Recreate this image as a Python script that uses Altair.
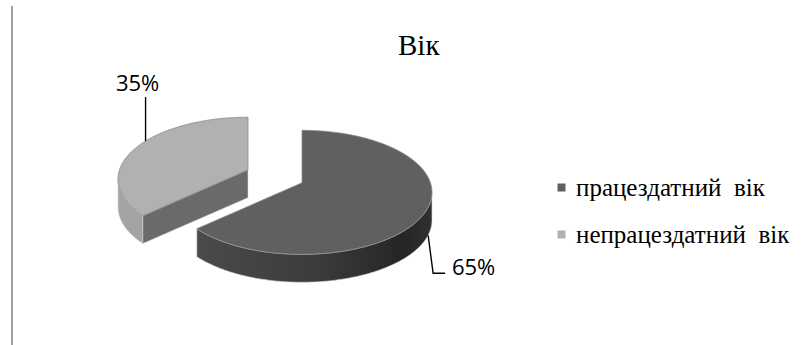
import math
import altair as alt
import pandas as pd

# ---------------- data ----------------
categories = ["працездатний вік", "непрацездатний вік"]
values = [65, 35]
top_colors = ["#606060", "#b1b1b1"]
title_text = "Вік"

# ---------------- geometry / style constants ----------------
SERIF = "'Liberation Serif', 'Times New Roman', 'DejaVu Serif', serif"
A = 130.0                      # pixels per pie-radius unit
X_DOMAIN = [-275 / A, (808 - 275) / A]
Y_DOMAIN = [-185.75 / A, (345 - 185.75) / A]
TILT = 0.477                   # vertical squash of the pie ellipse
PERSP = 0.073                  # apex sits a little above the ellipse centre
DEPTH = 0.215                  # thickness of the pie
EXPLODE = 0.233                # explosion distance of every slice
WALL_COLORS = ["#3c3c3c", "#a4a4a4"]
FACE_COLORS = ["#4a4a4a", "#6a6a6a"]
label_anchor_angle = [104, 308]
label_anchor_drop = [1.0, 0.0]
leader_offsets_px = [[(5, 38), (17, 38)], [(0, -44)]]
label_offsets_px = [(45.5, 33), (-8, -57)]


def S(d):
    return math.sin(math.radians(d))


def C(d):
    return math.cos(math.radians(d))


total = float(sum(values))
slices = []
start = 0.0
for idx, (cat, v) in enumerate(zip(categories, values)):
    a0 = start
    a1 = start + 360.0 * v / total
    start = a1
    mid = (a0 + a1) / 2
    slices.append(dict(idx=idx, cat=cat, value=v, a0=a0, a1=a1, mid=mid,
                       cx=EXPLODE * S(mid), cy=-EXPLODE * C(mid) * TILT))


def rim(s, th, drop=0.0):
    return (s["cx"] + S(th), s["cy"] - C(th) * TILT + drop)


def apex(s, drop=0.0):
    return (s["cx"], s["cy"] - PERSP + drop)


def arc(s, t0, t1, drop=0.0, step=1.0):
    n = max(2, int(math.ceil(abs(t1 - t0) / step)) + 1)
    return [rim(s, t0 + (t1 - t0) * k / (n - 1), drop) for k in range(n)]


rows = []
polys = []  # (pid, kind, slice idx)


def add_poly(kind, s, pts):
    pid = len(polys)
    polys.append((pid, kind, s["idx"]))
    for i, (x, y) in enumerate(pts):
        rows.append(dict(pid=pid, i=i, x=x, y=y, cat=s["cat"]))


for s in sorted(slices, key=lambda d: d["cy"]):
    # outer wall (front half only)
    w0, w1 = max(s["a0"], 90.0), min(s["a1"], 270.0)
    if w1 > w0:
        top = arc(s, w0, w1)
        bot = arc(s, w0, w1, DEPTH)
        add_poly("wall", s, top + bot[::-1])
    # radial faces facing the viewer
    for t, normal in ((s["a0"], s["a0"] - 90), (s["a1"], s["a1"] + 90)):
        if C(normal) < -1e-6:
            add_poly("face", s, [apex(s), rim(s, t), rim(s, t, DEPTH), apex(s, DEPTH)])
    # top face
    add_poly("top", s, [apex(s)] + arc(s, s["a0"], s["a1"]))

df = pd.DataFrame(rows)

# leaders and labels
lead_rows, lab_rows = [], []
for s in slices:
    k = s["idx"]
    ax, ay = rim(s, label_anchor_angle[k], DEPTH * label_anchor_drop[k])
    pts = [(ax, ay)] + [(ax + dx / A, ay + dy / A) for dx, dy in leader_offsets_px[k]]
    for i, (x, y) in enumerate(pts):
        lead_rows.append(dict(lid=k, i=i, x=x, y=y))
    lab_rows.append(dict(x=ax + label_offsets_px[k][0] / A, y=ay + label_offsets_px[k][1] / A,
                         value=s["value"]))
df_lead = pd.DataFrame(lead_rows)
df_lab = pd.DataFrame(lab_rows)

X = alt.X("x:Q", scale=alt.Scale(domain=X_DOMAIN, nice=False, zero=False), axis=None)
Y = alt.Y("y:Q", scale=alt.Scale(domain=Y_DOMAIN, nice=False, zero=False, reverse=True), axis=None)
O = alt.Order("i:Q")

fill_top = alt.Fill(
    "cat:N",
    scale=alt.Scale(domain=categories, range=top_colors),
    legend=alt.Legend(
        orient="none", legendX=549, legendY=175, title=None, padding=0,
        symbolType="square", symbolSize=64, symbolStrokeWidth=0,
        labelFont=SERIF, labelFontSize=25, labelColor="#000000",
        labelOffset=2, rowPadding=21, labelLimit=0,
        labelExpr="replace(datum.label, ' ', '\u00a0 ')",
    ),
)

dark_wall_gradient = alt.Gradient(
    gradient="linear", x1=0, x2=1, y1=0, y2=0,
    stops=[
        alt.GradientStop(color="#4a4a4a", offset=0),
        alt.GradientStop(color="#3c3c3c", offset=0.5),
        alt.GradientStop(color="#252525", offset=0.88),
        alt.GradientStop(color="#303030", offset=1),
    ],
)

layers = []
for pid, kind, k in polys:
    base = alt.Chart().transform_filter(alt.datum.pid == pid)
    if kind == "top":
        layer = base.mark_line(interpolate="linear-closed", stroke="#8c8c8c",
                               strokeWidth=0.8).encode(x=X, y=Y, order=O, fill=fill_top)
    elif kind == "wall":
        fillv = dark_wall_gradient if k == 0 else WALL_COLORS[k]
        layer = base.mark_line(interpolate="linear-closed", fill=fillv, stroke="#d8d8d8",
                               strokeWidth=0.6).encode(x=X, y=Y, order=O)
    else:
        layer = base.mark_line(interpolate="linear-closed", fill=FACE_COLORS[k], stroke="#d8d8d8",
                               strokeWidth=0.6).encode(x=X, y=Y, order=O)
    layers.append(layer)

pie = alt.layer(*layers, data=df)

leaders = alt.Chart(df_lead).mark_line(color="#000000", strokeWidth=1.4).encode(
    x=X, y=Y, order=O, detail="lid:N")

labels = alt.Chart(df_lab).transform_calculate(
    txt="datum.value + '%'"
).mark_text(font="Open Sans", fontSize=22, color="#000000", align="center",
            baseline="middle").encode(x=X, y=Y, text="txt:N")

border = alt.Chart(pd.DataFrame({"k": [0]})).mark_rule(color="#8a8a8a", strokeWidth=1.6).encode(
    x=alt.value(12), y=alt.value(6), y2=alt.value(345))

chart = alt.layer(border, pie, leaders, labels).properties(
    width=808, height=345, padding=0, autosize="none",
    title=alt.TitleParams(title_text, font=SERIF, fontSize=29, fontWeight="normal",
                          color="#000000", anchor="start", frame="group", orient="top",
                          baseline="alphabetic", offset=0, dx=398, dy=84),
    background="#ffffff",
).configure_view(stroke=None)

chart.save("out.html", embed_options={"renderer": "svg", "actions": False})
